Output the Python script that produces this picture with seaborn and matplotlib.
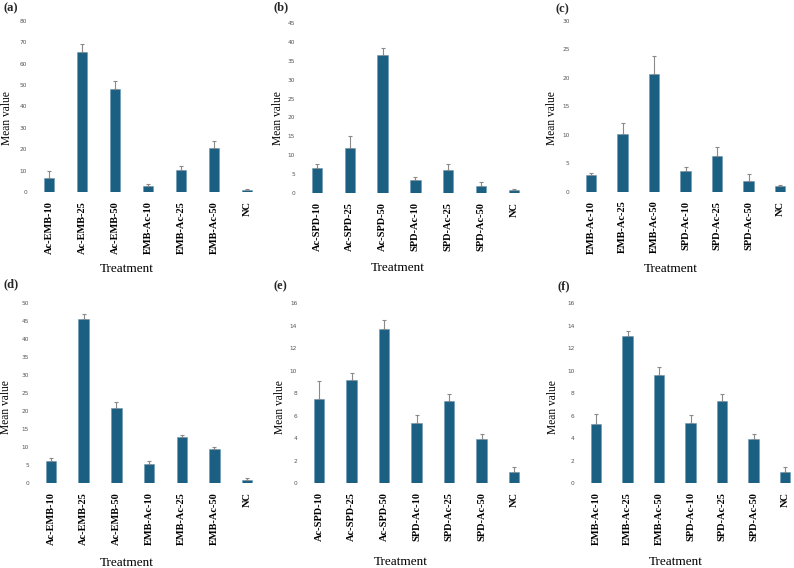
import matplotlib
matplotlib.use("Agg")
import matplotlib.pyplot as plt
import seaborn as sns
import numpy as np
import pandas as pd

sns.set_theme(style="white")
plt.rcParams['font.family'] = ['Liberation Serif', 'DejaVu Serif']

# ---------------- data ----------------
cats_a = ["Ac-EMB-10", "Ac-EMB-25", "Ac-EMB-50", "EMB-Ac-10", "EMB-Ac-25", "EMB-Ac-50", "NC"]
vals_a = [6.6, 65.5, 48.2, 3.0, 10.1, 20.6, 0.95]
err_a = [3.1, 3.6, 3.6, 0.6, 1.9, 3.3, 0.3]

cats_b = ["Ac-SPD-10", "Ac-SPD-25", "Ac-SPD-50", "SPD-Ac-10", "SPD-Ac-25", "SPD-Ac-50", "NC"]
vals_b = [6.8, 12.0, 36.6, 3.5, 6.15, 1.85, 0.95]
err_b = [0.9, 3.2, 1.6, 0.7, 1.5, 1.2, 0.15]

cats_c = ["EMB-Ac-10", "EMB-Ac-25", "EMB-Ac-50", "SPD-Ac-10", "SPD-Ac-25", "SPD-Ac-50", "NC"]
vals_c = [3.0, 10.1, 20.6, 3.6, 6.2, 1.9, 1.0]
err_c = [0.35, 1.9, 3.2, 0.7, 1.6, 1.2, 0.17]

cats_d = ["Ac-EMB-10", "Ac-EMB-25", "Ac-EMB-50", "EMB-Ac-10", "EMB-Ac-25", "EMB-Ac-50", "NC"]
vals_d = [6.3, 45.6, 20.9, 5.3, 13.0, 9.6, 0.93]
err_d = [0.7, 1.4, 1.6, 0.9, 0.5, 0.6, 0.45]

cats_e = ["Ac-SPD-10", "Ac-SPD-25", "Ac-SPD-50", "SPD-Ac-10", "SPD-Ac-25", "SPD-Ac-50", "NC"]
vals_e = [7.45, 9.15, 13.7, 5.35, 7.35, 3.95, 0.97]
err_e = [1.6, 0.65, 0.85, 0.7, 0.55, 0.4, 0.47]

cats_f = ["EMB-Ac-10", "EMB-Ac-25", "EMB-Ac-50", "SPD-Ac-10", "SPD-Ac-25", "SPD-Ac-50", "NC"]
vals_f = [5.3, 13.07, 9.63, 5.35, 7.35, 3.95, 0.97]
err_f = [0.9, 0.45, 0.75, 0.7, 0.55, 0.4, 0.47]

panel_labels = ["(a)", "(b)", "(c)", "(d)", "(e)", "(f)"]
ymaxes = [80, 45, 30, 50, 16, 16]
ysteps = [10, 5, 5, 5, 2, 2]

# ---------------- layout (pixels) ----------------
W, H = 794, 568
BAR_COLOR = "#1b5f82"

# first-bar center px, spacing px, y0 px, ytop px
geo = [
    (49, 33.0, 192.0, 20.7),
    (317, 32.8, 193.3, 22.7),
    (591, 31.5, 191.7, 20.7),
    (51, 32.7, 483.3, 303.3),
    (319, 32.5, 483.3, 303.3),
    (596, 31.5, 483.3, 303.3),
]
xlabel_pos = [(127, 263), (398, 262), (671, 263), (127, 557), (401, 556), (676, 556)]
ylabel_pos = [(7, 118), (278, 118), (552, 118), (6, 407), (280, 407), (553, 407)]
plabel_pos = [(3, 8), (273, 7), (555, 9), (3, 284), (273, 286), (557, 286)]

fig = plt.figure(figsize=(W / 100, H / 100), dpi=100)

data = [(cats_a, vals_a, err_a), (cats_b, vals_b, err_b), (cats_c, vals_c, err_c),
        (cats_d, vals_d, err_d), (cats_e, vals_e, err_e), (cats_f, vals_f, err_f)]

for i, ((cats, vals, errs), (c0, sp, y0, yt)) in enumerate(zip(data, geo)):
    left = c0 - 0.5 * sp
    right = min(c0 + 6.5 * sp, W)
    x_hi = (right - c0) / sp
    ax = fig.add_axes([left / W, 1 - y0 / H, (right - left) / W, (y0 - yt) / H])
    df = pd.DataFrame({"Treatment": cats, "Mean value": vals})
    sns.barplot(data=df, x="Treatment", y="Mean value", color=BAR_COLOR,
                width=0.32, saturation=1, edgecolor="#6a9ab5", linewidth=0.4, ax=ax)
    pos = np.arange(len(cats))
    ax.errorbar(pos, vals, yerr=[np.zeros(len(errs)), errs], fmt="none",
                ecolor="#8a8a8a", elinewidth=0.8, capsize=1.5, capthick=0.8)
    ax.set_xlim(-0.5, x_hi)
    ax.set_ylim(0, ymaxes[i])
    ticks = np.arange(0, ymaxes[i] + 0.01, ysteps[i])
    ax.set_yticks(ticks)
    ax.set_yticklabels([f"{int(v)}" for v in ticks],
                       fontsize=4.2, color="#555555", family="DejaVu Sans")
    ax.set_xticks(pos)
    ax.set_xticklabels(cats, rotation=90, fontsize=7.5, fontweight="bold",
                       family="Liberation Serif", color="black")
    ax.tick_params(axis="x", length=0, pad=6.5)
    ax.tick_params(axis="y", length=0, pad=4)
    for s in ax.spines.values():
        s.set_visible(False)
    ax.grid(False)
    ax.set_facecolor("none")
    ax.set_xlabel("Treatment", fontsize=9.5, family="Liberation Serif", color="black")
    ax.set_ylabel("Mean value", fontsize=8.3, family="Liberation Serif", color="black")
    xl = xlabel_pos[i]
    ax.xaxis.set_label_coords(xl[0] / W, 1 - xl[1] / H, transform=fig.transFigure)
    ax.xaxis.label.set_va("top")
    yl = ylabel_pos[i]
    ax.yaxis.set_label_coords(yl[0] / W, 1 - yl[1] / H, transform=fig.transFigure)
    ax.yaxis.label.set_va("center")
    pl = plabel_pos[i]
    fig.text(pl[0] / W, 1 - pl[1] / H, panel_labels[i], fontsize=9, fontweight="bold",
             family="Liberation Serif", va="center", ha="left")

fig.savefig("out.png", dpi=100)
